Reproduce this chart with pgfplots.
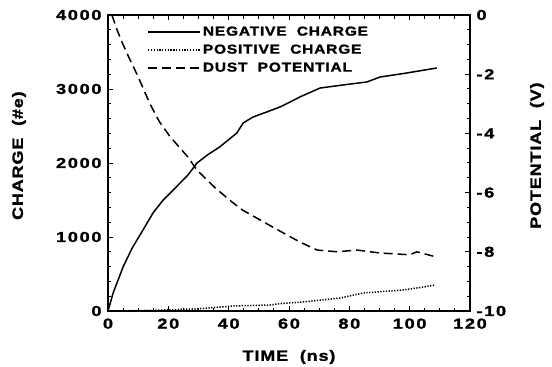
\documentclass[border=0pt]{standalone}
\usepackage{fontspec}
\setmainfont{Liberation Sans Bold}[FakeStretch=1.2, LetterSpace=6, FakeBold=1.5]
\newfontfamily\tickfont{Liberation Sans Bold}[FakeStretch=1.25, LetterSpace=12, FakeBold=1.5]
\usepackage{pgfplots}
\pgfplotsset{compat=1.18}
\begin{document}
\begin{tikzpicture}
\pgfplotsset{
  common/.style={
    scale only axis, width=362bp, height=296bp,
    xmin=0, xmax=120, xtick={0,20,...,120}, minor x tick num=3,
    tick align=inside,
    major tick length=5bp, minor tick length=3.5bp,
    every tick/.style={line width=1pt, black},
    /pgf/number format/assume math mode=true,
    tick label style={font=\tickfont\fontsize{14.5}{15}\selectfont},
    label style={font=\fontsize{15}{16}\selectfont},
    axis line style={line width=1.4pt},
  }
}
\begin{axis}[common, name=ax,
  ymin=0, ymax=4000, ytick={0,1000,...,4000}, minor y tick num=4,
  ytick pos=left, xtick pos=both,
  scaled y ticks=false,
  /pgf/number format/1000 sep={},
  xlabel={TIME\ \ (ns)},
  ylabel={CHARGE\ \ (\#e)},
  xlabel style={at={(axis description cs:0.5,0)}, anchor=center, yshift=-46bp},
  ylabel style={at={(axis description cs:0,0.525)}, anchor=center, yshift=89bp},
  xticklabel style={yshift=-4bp},
  yticklabel style={xshift=-3bp},
]
\addplot[black, line width=1.5pt] coordinates {
(0,0)(1.7,243)(5,595)(8,850)(11.6,1094)(15,1330)(18.3,1500)(22,1650)(26.5,1838)(29.5,2000)(33,2110)(37,2216)(42.7,2405)(44.8,2540)(48,2620)(52.6,2689)(57,2757)(59.7,2811)(64,2900)(70.3,3013)(78,3055)(85.8,3095)(90.2,3162)(99,3216)(104,3250)(109,3284)
};
\addplot[black, line width=1.5pt, dash pattern=on 1.3pt off 1.5pt] coordinates {
(0,0)(10,5)(20,15)(30,30)(41.5,68)(53.7,81)(57,100)(64.7,122)(70,145)(77,176)(84.5,243)(90,260)(97.8,284)(104,320)(108.4,351)
};
\end{axis}
\begin{axis}[common,
  ymin=-10, ymax=0, ytick={-10,-8,...,0}, minor y tick num=3,
  ytick pos=right, xtick=\empty, axis line style={draw=none},
  ylabel={POTENTIAL\ \ (V)},
  ylabel style={at={(axis description cs:1,0.525)}, anchor=center, yshift=-67bp},
  yticklabel style={xshift=3bp},
  legend style={draw=none, fill=none, at={(axis description cs:0.1,0.975)}, anchor=north west,
    font=\fontsize{13}{14}\selectfont, row sep=3.5pt},
  legend cell align=left,
  legend image code/.code={\draw[#1] (0bp,0bp) -- (52bp,0bp);},
]
\addlegendimage{black, line width=1.5pt}
\addlegendentry{NEGATIVE\ \ CHARGE}
\addlegendimage{black, line width=1.5pt, dash pattern=on 1.3pt off 1.5pt}
\addlegendentry{POSITIVE\ \ CHARGE}
\addplot[black, line width=1.5pt, dash pattern=on 9pt off 5pt] coordinates {
(1.3,0)(3,-0.5)(5,-1.0)(7,-1.45)(9.6,-2.0)(13.9,-3.0)(17,-3.6)(20.5,-4.1)(26.5,-4.8)(29.5,-5.24)(35.5,-5.84)(41.5,-6.35)(44.8,-6.6)(52.6,-7.05)(57,-7.3)(63.6,-7.67)(69.3,-7.94)(76,-8.0)(82.5,-7.94)(90,-8.04)(100,-8.1)(102.4,-8.0)(109,-8.18)
};
\addlegendentry{DUST\ \ POTENTIAL}
\end{axis}
\pgfresetboundingbox
\path ([xshift=-108bp,yshift=-56bp]ax.south west) rectangle ([xshift=82bp,yshift=15bp]ax.north east);
\end{tikzpicture}
\end{document}
